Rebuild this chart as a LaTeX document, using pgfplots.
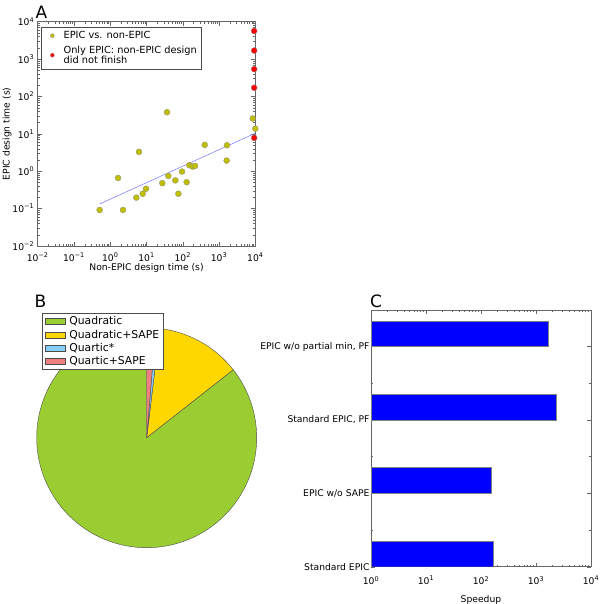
\documentclass[border=0pt]{standalone}
\usepackage{pgfplots}
\pgfplotsset{compat=1.18}
\usepackage{fontspec}
\setmainfont{DejaVu Sans}
\definecolor{ycol}{rgb}{0.75,0.75,0}
\definecolor{yellowgreen}{HTML}{9ACD32}
\definecolor{goldc}{HTML}{FFD700}
\definecolor{lskyblue}{HTML}{87CEFA}
\definecolor{lcoral}{HTML}{F08080}
\definecolor{linec}{rgb}{0.45,0.45,1}
\newcommand{\tp}[1]{10\textsuperscript{#1}}
\newcommand{\nf}{\fontsize{9.2}{10.5}\selectfont}
\newcommand{\lfa}{\fontsize{9.8}{10.3}\selectfont}
\newcommand{\lfb}{\fontsize{10.8}{12}\selectfont}
\pgfplotsset{
  mystyle/.style={
    scale only axis,
    axis line style={black!60, line width=0.5pt},
    tick style={black!60, line width=0.4pt},
    major tick length=4pt, minor tick length=2pt,
    every tick label/.append style={font=\nf},
    label style={font=\nf},
    /pgf/number format/assume math mode=true,
  }
}
\begin{document}
\begin{tikzpicture}
\useasboundingbox (0,0) rectangle (605pt,-604pt);

% ---------- Panel A ----------
\begin{axis}[mystyle,
  at={(37.7pt,-246pt)}, anchor=south west,
  width=217.6pt, height=224.3pt,
  tick align=inside,
  xmode=log, ymode=log,
  xmin=1e-2, xmax=1e4, ymin=1e-2, ymax=1e4,
  xtick={1e-2,1e-1,1,1e1,1e2,1e3,1e4},
  xticklabels={\tp{−2},\tp{−1},\tp{0},\tp{1},\tp{2},\tp{3},\tp{4}},
  ytick={1e-2,1e-1,1,1e1,1e2,1e3,1e4},
  yticklabels={\tp{−2},\tp{−1},\tp{0},\tp{1},\tp{2},\tp{3},\tp{4}},
  xticklabel style={yshift=-3pt},
  xlabel={Non-EPIC design time (s)},
  ylabel={EPIC design time (s)},
  xlabel style={yshift=5pt},
  ylabel style={yshift=-6pt},
  legend style={at={(0.015,0.976)}, anchor=north west, draw=black!70,
    font=\lfa, cells={anchor=west, align=left}, row sep=1.5pt,
    inner xsep=2pt, inner ysep=2pt},
  legend cell align=left,
  legend image code/.code={\path (0pt,0pt) (18pt,0pt);
     \draw[#1, only marks, mark size=2pt] plot coordinates {(9pt,0pt)};},
]
\addplot[only marks, mark=*, mark size=3pt, mark options={fill=ycol, draw=black!45, line width=0.3pt}] coordinates {
(0.51,0.092) (1.64,0.66) (2.25,0.092) (5.25,0.197) (6.2,3.3) (7.85,0.25)
(9.7,0.34) (27.3,0.48) (36.8,38) (40,0.75) (62.5,0.57) (75.6,0.25)
(95.5,0.98) (128,0.51) (152,1.45) (188,1.33) (218,1.39) (403,5.07)
(1620,1.93) (1660,4.97) (8500,25.7) (10000,13.8)
};
\addlegendentry{EPIC vs. non-EPIC}
\addplot[only marks, mark=*, mark size=3pt, mark options={fill=red, draw=black!45, line width=0.3pt}] coordinates {
(9300,5650) (9300,1690) (9300,538) (9300,171) (9300,7.8)
};
\addlegendentry{Only EPIC: non-EPIC design\\did not finish}
\addplot[linec, line width=0.5pt, forget plot] coordinates {(0.51,0.133) (10000,10.4)};
\end{axis}
\node[anchor=base west, inner sep=0pt, font=\fontsize{17}{17}\selectfont] at (35.5pt,-19pt) {A};

% ---------- Panel B ----------
\begin{axis}[
  at={(146.7pt,-437.7pt)}, anchor=center,
  hide axis, x=1pt, y=1pt,
  xmin=-125, xmax=125, ymin=-125, ymax=125, clip=false,
  legend style={at={(0.08,0.998)}, anchor=north west, draw=black!70, fill=white,
    font=\lfb, row sep=0pt, inner xsep=2pt, inner ysep=1.5pt,
    cells={text height=7.8pt, text depth=2.2pt, inner ysep=1.9pt}},
  legend cell align=left,
  legend image code/.code={\draw[#1] (1pt,-3pt) rectangle (21pt,3pt); \path (0pt,0pt) (23pt,0pt);},
]
\fill[yellowgreen, draw=black!70, line width=0.4pt] (axis cs:0,0) -- ++(90:110pt) arc[start angle=90, end angle=398.16, radius=110pt] -- cycle;
\fill[goldc, draw=black!70, line width=0.4pt] (axis cs:0,0) -- ++(398.16:110pt) arc[start angle=398.16, end angle=443.16, radius=110pt] -- cycle;
\fill[lskyblue, draw=black!70, line width=0.4pt] (axis cs:0,0) -- ++(443.16:110pt) arc[start angle=443.16, end angle=445.32, radius=110pt] -- cycle;
\fill[lcoral, draw=black!70, line width=0.4pt] (axis cs:0,0) -- ++(445.32:110pt) arc[start angle=445.32, end angle=450, radius=110pt] -- cycle;
\addlegendimage{fill=yellowgreen, draw=black!70}
\addlegendentry{Quadratic}
\addlegendimage{fill=goldc, draw=black!70}
\addlegendentry{Quadratic+SAPE}
\addlegendimage{fill=lskyblue, draw=black!70}
\addlegendentry{Quartic*}
\addlegendimage{fill=lcoral, draw=black!70}
\addlegendentry{Quartic+SAPE}
\end{axis}
\node[anchor=base west, inner sep=0pt, font=\fontsize{17}{17}\selectfont] at (34.5pt,-307.7pt) {B};

% ---------- Panel C ----------
\begin{axis}[mystyle,
  at={(371pt,-566.7pt)}, anchor=south west,
  width=220pt, height=256.7pt,
  xbar, bar width=0.35, bar shift=0.175,
  tick align=inside,
  xmode=log, xmin=1, xmax=1e4, ymin=0, ymax=3.5,
  xtick={1,1e1,1e2,1e3,1e4},
  xticklabels={\tp{0},\tp{1},\tp{2},\tp{3},\tp{4}},
  xticklabel style={yshift=-6pt},
  ytick={0,1,2,3},
  minor ytick={0.5,1.5,2.5},
  yticklabels={Standard EPIC, EPIC w/o SAPE, {Standard EPIC, PF}, {EPIC w/o partial min, PF}},
  yticklabel style={xshift=2pt},
  xlabel={Speedup},
  xlabel style={yshift=-4pt},
]
\addplot[fill=blue, draw=black!50, line width=0.4pt] coordinates {
(167,0) (156,1) (2340,2) (1675,3)
};
\end{axis}
\node[anchor=base west, inner sep=0pt, font=\fontsize{17}{17}\selectfont] at (370pt,-307.7pt) {C};
\end{tikzpicture}
\end{document}
